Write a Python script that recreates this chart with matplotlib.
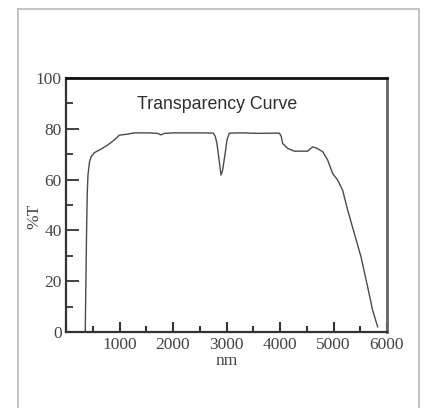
import matplotlib
matplotlib.use("Agg")
import matplotlib.pyplot as plt
from matplotlib.patches import Rectangle

# Data
wavelength_nm = [360, 372, 385, 398, 410, 425, 440, 470, 530, 654, 779, 903, 997, 1153,
                 1277, 1526, 1713, 1776, 1838, 2025, 2523, 2754, 2790, 2822, 2860, 2897,
                 2925, 2947, 2980, 3009, 3053, 3271, 3583, 3988, 4020, 4050, 4143, 4268,
                 4517, 4610, 4692, 4798, 4891, 4984, 5078, 5171, 5265, 5389, 5514, 5639,
                 5732, 5826]
transmission = [0.5, 20, 40, 55, 61.5, 64.5, 67, 69, 70.6, 72, 73.6, 75.6, 77.5, 77.9,
                78.4, 78.4, 78.2, 77.6, 78.2, 78.4, 78.4, 78.3, 77, 74.2, 68, 61.8,
                63.5, 66.4, 71, 75.6, 78.3, 78.4, 78.2, 78.3, 77.2, 74.2, 72.3, 71.2,
                71.2, 72.9, 72.3, 71.0, 67.7, 62.4, 59.8, 55.8, 48.0, 38.8, 29.6, 17.7,
                8.5, 2.0]

x_major = [0, 1000, 2000, 3000, 4000, 5000, 6000]
x_labels = ["", "1000", "2000", "3000", "4000", "5000", "6000"]
x_minor = [500, 1500, 2500, 3500, 4500, 5500]
y_major = [0, 20, 40, 60, 80, 100]
y_minor = [10, 30, 50, 70, 90]

title_text = "Transparency Curve"
x_label = "nm"
y_label = "%T"

fig = plt.figure(figsize=(4.24, 4.08), dpi=100)
fig.patch.set_facecolor("white")

# outer light gray frame
frame = Rectangle((18 / 424, -0.05), (419 - 18) / 424, (1 - 9 / 408) + 0.05,
                  transform=fig.transFigure, fill=False, edgecolor="#c4c4c4",
                  linewidth=1.5)
fig.add_artist(frame)

ax = fig.add_axes([66 / 424, 1 - 332 / 408, (387 - 66) / 424, (332 - 78) / 408])
ax.plot(wavelength_nm, transmission, color="#4a4a4a", linewidth=1.0)

ax.set_xlim(0, 6000)
ax.set_ylim(0, 100)
ax.set_xticks(x_major)
ax.set_xticklabels(x_labels)
ax.set_xticks(x_minor, minor=True)
ax.set_yticks(y_major)
ax.set_yticks(y_minor, minor=True)

serif = ["Liberation Serif", "DejaVu Serif"]
for lab in ax.get_xticklabels() + ax.get_yticklabels():
    lab.set_family(serif)
    lab.set_fontsize(12.5)
    lab.set_color("#454545")

ax.tick_params(axis="x", which="major", direction="in", length=7, width=1.5,
               color="#333333", pad=3.5, top=False)
ax.tick_params(axis="x", which="minor", direction="in", length=4, width=1.5,
               color="#333333", top=False)
ax.tick_params(axis="y", which="major", direction="in", length=9.5, width=1.3,
               color="#333333", pad=3, right=False)
ax.tick_params(axis="y", which="minor", direction="in", length=5, width=1.3,
               color="#333333", right=False)

for side in ["left", "bottom"]:
    ax.spines[side].set_color("#333333")
    ax.spines[side].set_linewidth(1.6)
ax.spines["top"].set_color("#111111")
ax.spines["top"].set_linewidth(2.0)
ax.spines["right"].set_color("#666666")
ax.spines["right"].set_linewidth(2.0)

ax.text(2820, 89.7, title_text, ha="center", va="center", fontsize=12.8,
        family=["Liberation Sans", "DejaVu Sans"], color="#2e2e2e")

ax.set_xlabel(x_label, family=serif, fontsize=12.5, color="#454545", labelpad=0)
ax.set_ylabel(y_label, family=serif, fontsize=12.5, color="#454545")
ax.yaxis.set_label_coords(-0.075, 0.455)

fig.savefig("out.png", dpi=100, facecolor="white")
